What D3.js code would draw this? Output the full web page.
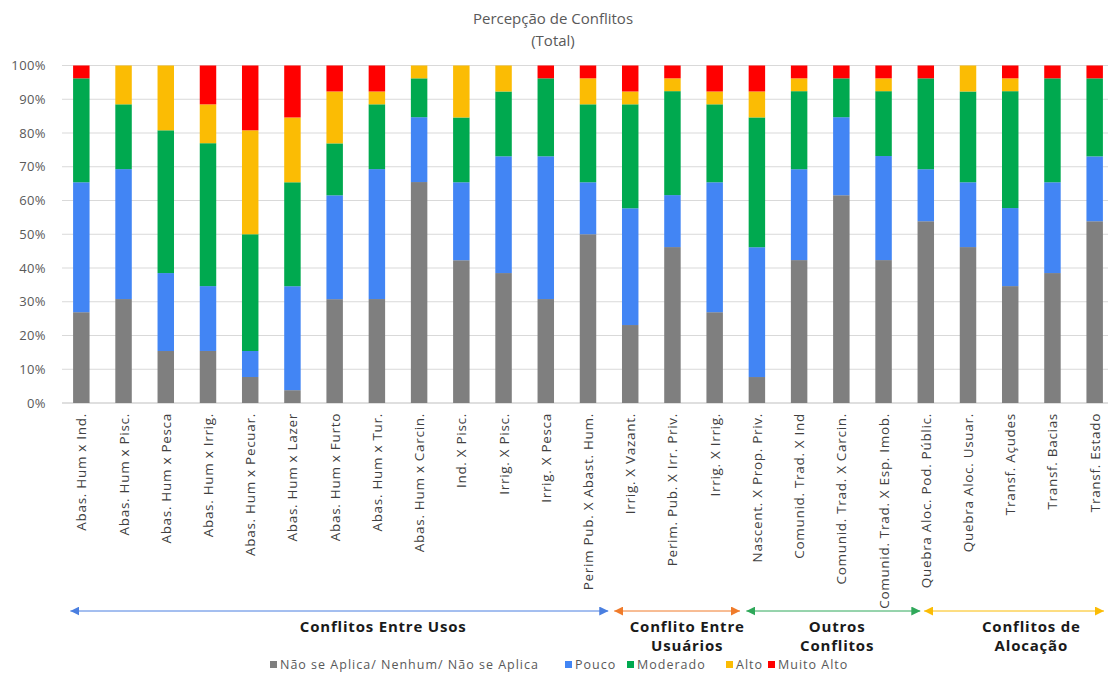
<!DOCTYPE html>
<html>
<head>
<meta charset="utf-8">
<script src="https://cdn.jsdelivr.net/npm/d3@7"></script>
<style>
  body { margin: 0; background: #fff; }
  svg { display: block; font-family: "Open Sans", sans-serif; }
</style>
</head>
<body>
<svg width="1108" height="674"></svg>
<script>
// categorias do eixo x
const categories = [
    "Abas. Hum x Ind.", "Abas. Hum x Pisc.", "Abas. Hum x Pesca", "Abas. Hum x Irrig.",
    "Abas. Hum x Pecuar.", "Abas. Hum x Lazer", "Abas. Hum x Furto", "Abas. Hum x Tur.",
    "Abas. Hum x Carcin.", "Ind. X Pisc.", "Irrig. X Pisc.", "Irrig. X Pesca",
    "Perim Pub. X Abast. Hum.", "Irrig. X Vazant.", "Perim. Pub. X Irr. Priv.", "Irrig. X Irrig.",
    "Nascent. X Prop. Priv.", "Comunid. Trad. X Ind", "Comunid. Trad. X Carcin.",
    "Comunid. Trad. X Esp. Imob.", "Quebra Aloc. Pod. Públic.", "Quebra Aloc. Usuar.",
    "Transf. Açudes", "Transf. Bacias", "Transf. Estado"
];

// series (% do total)
const naoSeAplica = [26.9, 30.8, 15.4, 15.4, 7.7, 3.8, 30.8, 30.8, 65.4, 42.3, 38.5, 30.8, 50.0,
    23.1, 46.2, 26.9, 7.7, 42.3, 61.5, 42.3, 53.8, 46.2, 34.6, 38.5, 53.8];
const pouco = [38.5, 38.5, 23.1, 19.2, 7.7, 30.8, 30.8, 38.5, 19.2, 23.1, 34.6, 42.3, 15.4,
    34.6, 15.4, 38.5, 38.5, 26.9, 23.1, 30.8, 15.4, 19.2, 23.1, 26.9, 19.2];
const moderado = [30.8, 19.2, 42.3, 42.3, 34.6, 30.8, 15.4, 19.2, 11.5, 19.2, 19.2, 23.1, 23.1,
    30.8, 30.8, 23.1, 38.5, 23.1, 11.5, 19.2, 26.9, 26.9, 34.6, 30.8, 23.1];
const alto = [0, 11.5, 19.2, 11.5, 30.8, 19.2, 15.4, 3.8, 3.8, 15.4, 7.7, 0, 7.7,
    3.8, 3.8, 3.8, 7.7, 3.8, 0, 3.8, 0, 7.7, 3.8, 0, 0];
const muitoAlto = [3.8, 0, 0, 11.5, 19.2, 15.4, 7.7, 7.7, 0, 0, 0, 3.8, 3.8,
    7.7, 3.8, 7.7, 7.7, 3.8, 3.8, 3.8, 3.8, 0, 3.8, 3.8, 3.8];

const seriesNames = ["Não se Aplica/ Nenhum/ Não se Aplica", "Pouco", "Moderado", "Alto", "Muito Alto"];
const seriesColors = ["#7f7f7f", "#4285f4", "#00a94f", "#fbbc04", "#ff0000"];
const yTicks = [0, 0.1, 0.2, 0.3, 0.4, 0.5, 0.6, 0.7, 0.8, 0.9, 1];

// grupos (posição em unidades de barra)
const groupNames = [["Conflitos Entre Usos"], ["Conflito Entre", "Usuários"], ["Outros", "Conflitos"], ["Conflitos de", "Alocação"]];
const groupColors = ["#4a7fe0", "#f07b2a", "#2fa85a", "#fbbc04"];
const groupFrom = [-0.26, 12.62, 15.75, 19.96];
const groupTo = [12.48, 15.6, 19.87, 24.22];
const groupLabelAt = [7.15, 14.35, 17.9, 22.5];

const svg = d3.select("svg");
const width = 1108;

const table = categories.map((c, i) => ({
    cat: c,
    s0: naoSeAplica[i], s1: pouco[i], s2: moderado[i], s3: alto[i], s4: muitoAlto[i]
}));

const stack = d3.stack().keys(["s0", "s1", "s2", "s3", "s4"]).offset(d3.stackOffsetExpand);
const stacked = stack(table);

const x = d3.scaleBand().domain(categories).range([60, 1116]).paddingInner(0.61).paddingOuter(0.31);
const y = d3.scaleLinear().domain([0, 1]).range([403, 65.5]);

// titulo
svg.append("text")
    .attr("x", 553).attr("y", 24)
    .attr("text-anchor", "middle")
    .attr("font-size", 15).attr("fill", "#595959")
    .text("Percepção de Conflitos");
svg.append("text")
    .attr("x", 553).attr("y", 46)
    .attr("text-anchor", "middle")
    .attr("font-size", 15).attr("fill", "#595959")
    .text("(Total)");

// grade
svg.append("g")
    .selectAll("line")
    .data(yTicks)
    .enter().append("line")
    .attr("x1", 62).attr("x2", width)
    .attr("y1", d => y(d)).attr("y2", d => y(d))
    .attr("stroke", d => d === 0 ? "#bfbfbf" : "#d9d9d9")
    .attr("stroke-width", 1);

// eixo y
const yAxis = svg.append("g")
    .attr("transform", "translate(50,0)")
    .call(d3.axisLeft(y).tickValues(yTicks).tickFormat(d3.format(".0%")).tickSize(0));
yAxis.select(".domain").remove();
yAxis.selectAll("text")
    .attr("font-family", "Open Sans, sans-serif")
    .attr("font-size", 13).attr("fill", "#595959").attr("x", -4)
    .attr("letter-spacing", 0.4);

// barras
svg.append("g")
    .selectAll("g")
    .data(stacked)
    .enter().append("g")
    .attr("fill", (d, i) => seriesColors[i])
    .selectAll("rect")
    .data(d => d)
    .enter().append("rect")
    .attr("x", d => x(d.data.cat))
    .attr("width", x.bandwidth())
    .attr("y", d => y(d[1]))
    .attr("height", d => y(d[0]) - y(d[1]));

// rótulos do eixo x
svg.append("g")
    .selectAll("text")
    .data(categories)
    .enter().append("text")
    .attr("transform", d => "translate(" + (x(d) + x.bandwidth() / 2 + 5) + ",413) rotate(-90)")
    .attr("text-anchor", "end")
    .attr("font-size", 13.5).attr("letter-spacing", 0.7).attr("fill", "#404040")
    .text(d => d);

// setas dos grupos
const step = x.step();
const pos = v => x(categories[0]) + x.bandwidth() / 2 + v * step;

const defs = svg.append("defs");
groupColors.forEach((c, i) => {
    defs.append("marker")
        .attr("id", "arrow" + i)
        .attr("viewBox", "0 -5 10 10")
        .attr("refX", 10).attr("refY", 0)
        .attr("orient", "auto-start-reverse")
        .attr("markerUnits", "userSpaceOnUse")
        .attr("markerWidth", 9).attr("markerHeight", 9)
        .append("path")
        .attr("d", "M0,-5L10,0L0,5Z")
        .attr("fill", c);
});

const groups = svg.append("g");
groupNames.forEach((g, i) => {
    groups.append("line")
        .attr("x1", pos(groupFrom[i])).attr("x2", pos(groupTo[i]))
        .attr("y1", 611).attr("y2", 611)
        .attr("stroke", groupColors[i]).attr("stroke-width", 1)
        .attr("marker-start", "url(#arrow" + i + ")")
        .attr("marker-end", "url(#arrow" + i + ")");
    g.forEach((line, j) => {
        groups.append("text")
            .attr("x", pos(groupLabelAt[i]))
            .attr("y", 632 + j * 19)
            .attr("text-anchor", "middle")
            .attr("font-size", 15).attr("letter-spacing", 0.8)
            .attr("font-weight", "bold").attr("fill", "#1a1a1a")
            .text(line);
    });
});

// legenda
const legendX = [270, 565, 627, 726, 768];
const legend = svg.append("g");
seriesNames.forEach((s, i) => {
    legend.append("rect")
        .attr("x", legendX[i]).attr("y", 661)
        .attr("width", 7).attr("height", 7)
        .attr("fill", seriesColors[i]);
    legend.append("text")
        .attr("x", legendX[i] + 10).attr("y", 669)
        .attr("font-size", 12.5).attr("letter-spacing", 1).attr("fill", "#595959")
        .text(s);
});
</script>
</body>
</html>
